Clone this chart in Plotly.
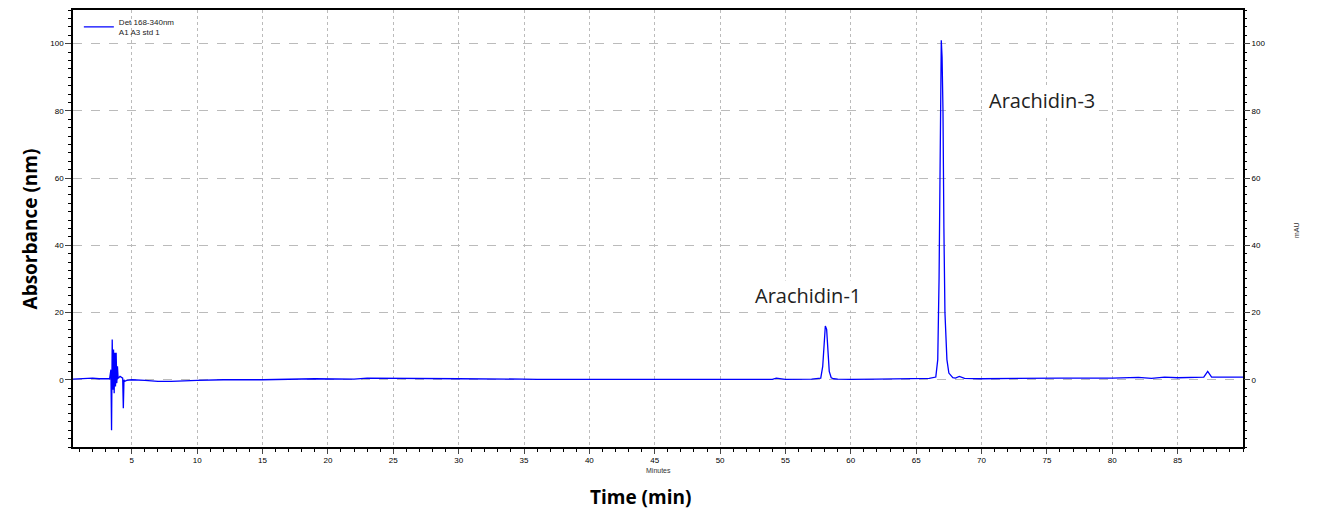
import plotly.graph_objects as go

# chromatogram points (time in min, absorbance in mAU)
time = [0.5, 1.0, 1.5, 2.0, 2.5, 3.0, 3.3, 3.4, 3.45, 3.5, 3.55, 3.6, 3.65, 3.7, 3.75, 3.8, 3.85, 3.9, 3.95,
        4.0, 4.1, 4.2, 4.3, 4.35, 4.4, 4.45, 4.6, 5.0, 6.0, 7.0, 8.0, 9.0, 10.0, 12.0, 15.0, 19.0, 20.0,
        22.0, 23.0, 25.0, 26.0, 30.0, 35.0, 36.0, 40.0, 45.0, 50.0, 54.0, 54.3, 55.0, 57.0, 57.7, 57.85,
        57.95, 58.05, 58.15, 58.25, 58.35, 58.5, 58.7, 59.0, 60.0, 62.0, 64.0, 66.0, 66.5, 66.65, 66.75,
        66.85, 66.92, 66.98, 67.05, 67.12, 67.2, 67.35, 67.5, 67.8, 68.0, 68.3, 68.7, 70.0, 72.0, 74.0,
        76.0, 80.0, 82.0, 83.0, 84.0, 85.0, 86.0, 87.0, 87.3, 87.6, 88.0, 90.0]
absorbance = [0.2, 0.3, 0.4, 0.5, 0.3, 0.4, 0.3, 3.0, -15.0, 12.0, -3.0, 9.0, -4.0, 8.0, -2.0, 8.0, -1.0,
              4.0, 0.5, 0.6, 1.0, 0.8, 0.5, -8.5, 0.0, -0.5, -0.2, 0.0, -0.2, -0.5, -0.5, -0.3, -0.2, 0.0,
              0.0, 0.3, 0.2, 0.2, 0.5, 0.5, 0.4, 0.3, 0.2, 0.1, 0.1, 0.1, 0.1, 0.1, 0.5, 0.1, 0.2, 0.5, 4.0,
              11.0, 16.0, 15.0, 8.0, 2.5, 0.6, 0.3, 0.2, 0.1, 0.2, 0.3, 0.4, 0.8, 6.0, 30.0, 62.0, 101.0,
              96.0, 80.0, 45.0, 20.0, 6.0, 2.0, 0.6, 0.5, 1.0, 0.4, 0.3, 0.4, 0.6, 0.5, 0.5, 0.7, 0.4,
              0.8, 0.6, 0.8, 0.8, 2.5, 0.8, 0.8, 0.8]

peak_labels = ["Arachidin-1", "Arachidin-3"]
peak_x = [56.7, 74.6]
peak_y = [25.0, 83.0]

fig = go.Figure()
fig.add_trace(go.Scatter(x=time, y=absorbance, mode="lines", line=dict(color="#0000ff", width=1.3),
                         name="Det 168-340nm<br>A1 A3 std 1"))
fig.add_trace(go.Scatter(x=time, y=absorbance, mode="lines", line=dict(width=0), yaxis="y2",
                         showlegend=False, hoverinfo="skip"))

for lab, px_, py_ in zip(peak_labels, peak_x, peak_y):
    fig.add_annotation(x=px_, y=py_, text=lab, showarrow=False, bgcolor="white",
                       font=dict(family="Open Sans", size=20, color="#222"))

tickfont = dict(family="Liberation Sans", size=8, color="black")
# page body has an 8px margin, so the figure is a bit smaller than the window
fig.update_layout(
    width=1309, height=506, plot_bgcolor="white", paper_bgcolor="white",
    margin=dict(l=65, r=74, t=2, b=67, autoexpand=False),
    legend=dict(x=0.005, y=1.0, xanchor="left", yanchor="top", bgcolor="rgba(0,0,0,0)",
                font=dict(family="Liberation Sans", size=8, color="#222")),
    xaxis=dict(range=[0.5, 90], tickvals=list(range(5, 90, 5)), showgrid=True, gridcolor="#bbb",
               griddash="dot", zeroline=False, showline=True, linecolor="black", linewidth=1.5,
               ticks="outside", ticklen=5, tickfont=tickfont, mirror=True,
               minor=dict(dtick=1, ticks="outside", ticklen=3, tickcolor="black")),
    yaxis=dict(range=[-20, 110], tickvals=[0, 20, 40, 60, 80, 100], showgrid=True, gridcolor="#bbb",
               griddash="dash", zeroline=False, showline=True, linecolor="black", linewidth=1.5,
               ticks="outside", ticklen=6, tickfont=tickfont, mirror=True,
               minor=dict(dtick=2.5, ticks="outside", ticklen=3, tickcolor="black")),
    yaxis2=dict(range=[-20, 110], overlaying="y", side="right", tickvals=[0, 20, 40, 60, 80, 100],
                showgrid=False, zeroline=False, ticks="outside", ticklen=6, tickfont=tickfont,
                minor=dict(dtick=2.5, ticks="outside", ticklen=3, tickcolor="black")),
    showlegend=True,
)
fig.add_annotation(text="Minutes", xref="paper", yref="paper", x=0.5, y=-0.066,
                   showarrow=False, font=dict(family="Liberation Sans", size=7, color="#333"))
fig.add_annotation(text="mAU", xref="paper", yref="paper", x=1.051, y=0.497, showarrow=False,
                   textangle=-90, font=dict(family="Liberation Sans", size=7, color="#333"))
fig.add_annotation(text="<b>Time (min)</b>", xref="paper", yref="paper", x=0.485, y=-0.148,
                   showarrow=False, font=dict(family="Open Sans", size=19, color="black"))
fig.add_annotation(text="<b>Absorbance (nm)</b>", xref="paper", yref="paper", x=-0.0496, y=0.5,
                   textangle=-90, showarrow=False, font=dict(family="Open Sans", size=19, color="black"))

fig.write_html("out.html")
